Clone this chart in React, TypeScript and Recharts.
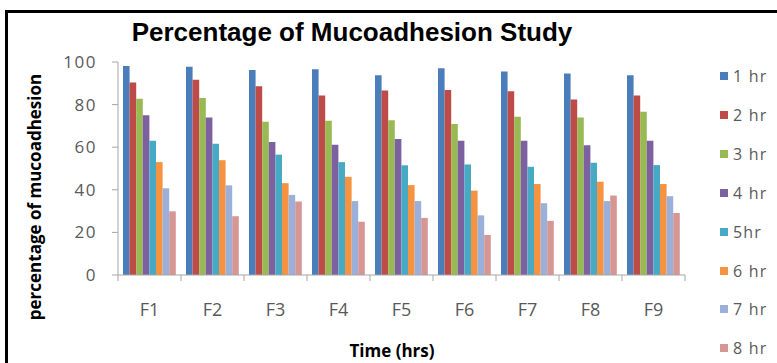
import React from 'react';
import { BarChart, Bar, XAxis, YAxis, Legend } from 'recharts';

const categories = ['F1', 'F2', 'F3', 'F4', 'F5', 'F6', 'F7', 'F8', 'F9'];
const hr1 = [98.1, 97.8, 96.3, 96.6, 93.8, 97.1, 95.5, 94.6, 93.8];
const hr2 = [90.4, 91.7, 88.6, 84.3, 86.6, 86.9, 86.3, 82.4, 84.3];
const hr3 = [82.7, 83.1, 72.0, 72.4, 72.7, 70.9, 74.3, 74.0, 76.6];
const hr4 = [75.0, 74.0, 62.4, 61.2, 63.8, 63.0, 63.0, 60.9, 63.0];
const hr5 = [63.0, 61.6, 56.5, 53.0, 51.5, 51.9, 50.8, 52.7, 51.6];
const hr6 = [53.0, 53.9, 43.1, 46.1, 42.2, 39.6, 42.7, 43.8, 42.7];
const hr7 = [40.7, 42.1, 37.6, 34.7, 34.7, 28.0, 33.7, 34.7, 37.0];
const hr8 = [29.9, 27.6, 34.5, 25.0, 26.8, 18.8, 25.4, 37.3, 29.1];

const seriesNames = ['1 hr', '2 hr', '3 hr', '4 hr', '5hr', '6 hr', '7 hr', '8 hr'];
const seriesValues = [hr1, hr2, hr3, hr4, hr5, hr6, hr7, hr8];
const seriesColors = ['#4A7EBB', '#BE4B48', '#98B954', '#7D60A0', '#46AAC5', '#F69240', '#9AB0D8', '#D69694'];
const yTicks = [0, 20, 40, 60, 80, 100];

const data = categories.map((c, i) => {
  const row: Record<string, string | number> = { name: c };
  seriesValues.forEach((vals, s) => {
    row['s' + s] = vals[i];
  });
  return row;
});

const textColor = '#595959';
const axisColor = '#A6A6A6';
const TICK_GAP = 22;
const TICK_LEN = 6;

const CategoryTick = (props: any) => {
  const { x, y, payload, index, visibleTicksCount } = props;
  const half = payload && payload.offset ? payload.offset : 31.5;
  const axisY = y - TICK_GAP - TICK_LEN;
  const isLast = index === (visibleTicksCount ?? categories.length) - 1;
  return (
    <g>
      <line x1={x - half} x2={x - half} y1={axisY} y2={axisY + TICK_LEN} stroke={axisColor} />
      {isLast && <line x1={x + half} x2={x + half} y1={axisY} y2={axisY + TICK_LEN} stroke={axisColor} />}
      <text
        x={x}
        y={y}
        dy="0.71em"
        textAnchor="middle"
        fill={textColor}
        fontSize={18}
        fontFamily='"Open Sans", sans-serif'
      >
        {payload.value}
      </text>
    </g>
  );
};

const renderLegend = (props: any) => {
  const payload = props.payload || [];
  return (
    <div style={{ position: 'relative', width: 0, height: 0 }}>
      {payload.map((entry: any, i: number) => (
        <div
          key={i}
          style={{
            position: 'absolute',
            left: 720,
            top: 64 + i * 38.9,
            height: 24,
            display: 'flex',
            alignItems: 'center',
            whiteSpace: 'nowrap',
            fontFamily: '"Open Sans", sans-serif',
            fontSize: 16,
            letterSpacing: 1.2,
            color: textColor,
          }}
        >
          <span style={{ display: 'inline-block', width: 8, height: 8, background: entry.color, marginRight: 5 }} />
          <span>{entry.value}</span>
        </div>
      ))}
    </div>
  );
};

export default function App() {
  return (
    <div style={{ position: 'absolute', left: 0, top: 0, width: 777, height: 363, background: '#fff', overflow: 'hidden' }}>
      <BarChart
        width={777}
        height={363}
        data={data}
        margin={{ top: 62, right: 92, bottom: 0, left: 58 }}
        barGap={0}
      >
        <XAxis
          dataKey="name"
          height={88}
          tickLine={false}
          axisLine={{ stroke: axisColor }}
          tickSize={TICK_LEN}
          tickMargin={TICK_GAP}
          tick={<CategoryTick />}
          interval={0}
          label={{
            content: () => (
              <text
                x={392}
                y={357}
                textAnchor="middle"
                fill="#000"
                fontSize={17}
                fontWeight="bold"
                fontFamily='"Open Sans", sans-serif'
              >
                Time (hrs)
              </text>
            ),
          }}
        />
        <YAxis
          width={60}
          domain={[0, 100]}
          ticks={yTicks}
          tickSize={6}
          tickMargin={15}
          stroke={axisColor}
          tick={{ fill: textColor, fontSize: 17, letterSpacing: 1.5, fontFamily: '"Open Sans", sans-serif' }}
          label={{
            content: () => (
              <text
                x={34}
                y={197}
                transform="rotate(-90 34 197)"
                textAnchor="middle"
                dominantBaseline="central"
                fill="#000"
                fontSize={17}
                fontWeight="bold"
                fontFamily='"Open Sans", sans-serif'
              >
                percentage of mucoadhesion
              </text>
            ),
          }}
        />
        <Legend
          content={renderLegend}
          wrapperStyle={{ position: 'absolute', left: 0, top: 0, width: 0, height: 0 }}
        />
        {seriesNames.map((n, s) => (
          <Bar key={n} dataKey={'s' + s} name={n} fill={seriesColors[s]} barSize={6.6} isAnimationActive={false} />
        ))}
      </BarChart>
      <div
        style={{
          position: 'absolute',
          left: 0,
          width: 704,
          top: 19,
          textAlign: 'center',
          fontFamily: '"Liberation Sans", Arial, sans-serif',
          fontWeight: 'bold',
          fontSize: 26,
          lineHeight: '26px',
          color: '#000',
        }}
      >
        Percentage of Mucoadhesion Study
      </div>
      <div
        style={{
          position: 'absolute',
          left: 5,
          top: 10,
          width: 790,
          height: 380,
          borderTop: '3px solid #000',
          borderLeft: '3px solid #000',
          pointerEvents: 'none',
        }}
      />
    </div>
  );
}
